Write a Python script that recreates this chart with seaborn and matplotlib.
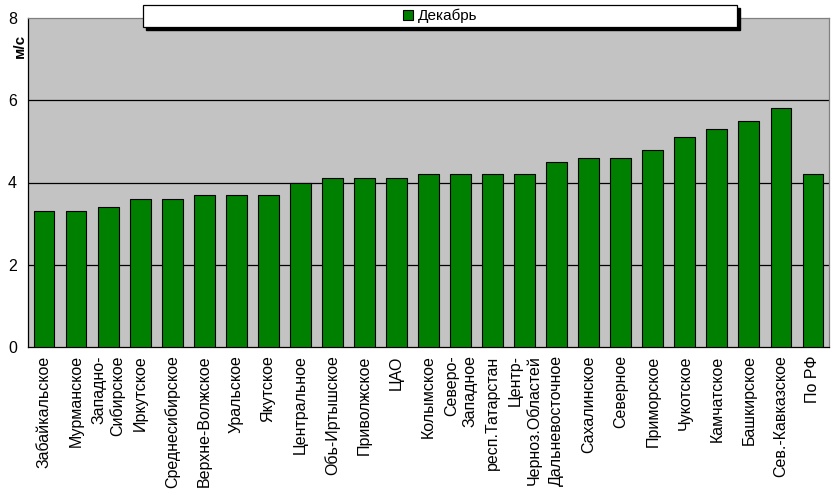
import matplotlib
matplotlib.use("Agg")
import matplotlib.pyplot as plt
import seaborn as sns
import pandas as pd
import numpy as np
from matplotlib.patches import Rectangle

categories = ["Забайкальское", "Мурманское", "Западно-\nСибирское", "Иркутское",
              "Среднесибирское", "Верхне-Волжское", "Уральское", "Якутское",
              "Центральное", "Обь-Иртышское", "Приволжское", "ЦАО", "Колымское",
              "Северо-\nЗападное", "респ.Татарстан", "Центр-\nЧерноз.Областей",
              "Дальневосточное", "Сахалинское", "Северное", "Приморское",
              "Чукотское", "Камчатское", "Башкирское", "Сев.-Кавказское", "По РФ"]
values = [3.3, 3.3, 3.4, 3.6, 3.6, 3.7, 3.7, 3.7, 4.0, 4.1, 4.1, 4.1, 4.2,
          4.2, 4.2, 4.2, 4.5, 4.6, 4.6, 4.8, 5.1, 5.3, 5.5, 5.8, 4.2]
series_name = "Декабрь"
yticks = [0, 2, 4, 6, 8]

sns.set_style("white")
plt.rcParams['font.family'] = ['Liberation Sans', 'DejaVu Sans']
plt.rcParams['text.color'] = 'black'
plt.rcParams['xtick.color'] = 'black'
plt.rcParams['ytick.color'] = 'black'
plt.rcParams['xtick.labelcolor'] = 'black'
plt.rcParams['ytick.labelcolor'] = 'black'

df = pd.DataFrame({"cat": categories, "val": values})

fig = plt.figure(figsize=(8.35, 4.99), dpi=100)
ax = fig.add_axes([28/835, 1-347/499, 801/835, 329/499])
ax.set_facecolor("#C3C3C3")

sns.barplot(data=df, x="cat", y="val", color="#008000", saturation=1,
            width=0.65, edgecolor="black", linewidth=0.8, ax=ax,
            label=series_name, zorder=3)

ax.set_ylim(0, 8)
ax.set_xlim(-0.5, len(categories) - 0.5)
ax.set_yticks(yticks)
ax.set_yticklabels([str(t) for t in yticks], fontsize=11.5, color="black")
for y in yticks[1:-1]:
    ax.axhline(y, color="black", linewidth=0.9, zorder=1)

ax.set_xticks(range(len(categories)))
ax.set_xticklabels(categories, rotation=90, fontsize=11.5, va="top", ha="center",
                   multialignment="right", linespacing=1.25, color="black")
ax.tick_params(axis="x", which="major", length=0, pad=6)
ax.set_xticks(np.arange(-0.5, len(categories), 1.0), minor=True)
ax.tick_params(axis="x", which="minor", length=5, width=0.9, color="black", direction="out")
ax.tick_params(axis="y", length=4, width=0.9, color="black", direction="out", pad=4)

for s in ["left", "bottom"]:
    ax.spines[s].set_color("black")
    ax.spines[s].set_linewidth(0.9)
for s in ["top", "right"]:
    ax.spines[s].set_color("#808080")
    ax.spines[s].set_linewidth(0.9)

ax.set_xlabel("")
ax.set_ylabel("")
fig.text(20/835, 1-46/499, "м/с", rotation=90, fontsize=11, fontweight="bold",
         ha="center", va="center", color="black")

# legend box
fig.patches.append(Rectangle((146/835, 1-30/499), 594/835, 22/499,
                             transform=fig.transFigure, facecolor="black",
                             edgecolor="black", zorder=4))
fig.patches.append(Rectangle((143/835, 1-27/499), 594/835, 22/499,
                             transform=fig.transFigure, facecolor="white",
                             edgecolor="black", linewidth=0.9, zorder=4.5))
handles, labels = ax.get_legend_handles_labels()
if ax.get_legend():
    ax.get_legend().remove()
fig.legend(handles, labels, loc="center", bbox_to_anchor=(440/835, 1-16/499),
           frameon=False, fontsize=11, handlelength=0.7, handleheight=0.7,
           handletextpad=0.3, borderpad=0, labelcolor="black")

fig.savefig("out.png", dpi=100, facecolor="white")
